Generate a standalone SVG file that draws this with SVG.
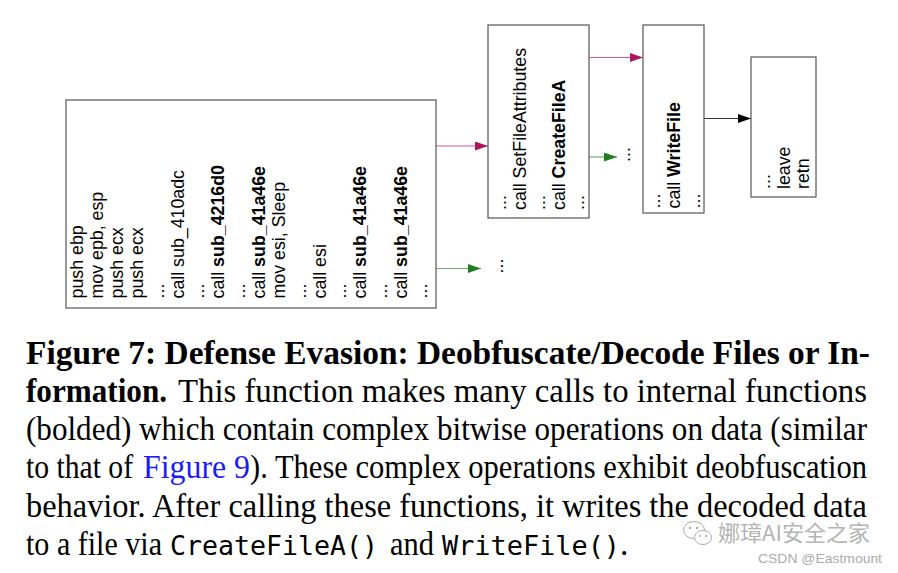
<svg xmlns="http://www.w3.org/2000/svg" width="898" height="573" viewBox="0 0 898 573">
<defs>
<style>
.box{fill:#fff;stroke:#555;stroke-width:1.2}
.t{font-family:"Liberation Sans",Arial,sans-serif;font-size:17.8px;fill:#000}
.b{font-weight:bold}
.cap{font-family:"Liberation Serif","Times New Roman",serif;font-size:33.5px;fill:#000}
.mono{font-family:"DejaVu Sans Mono","Liberation Mono",monospace;font-size:26px;fill:#000}
.mag{stroke:#cc5f8f;stroke-width:1.2;fill:none}
.grn{stroke:#6fae6f;stroke-width:1.2;fill:none}
.blk{stroke:#333;stroke-width:1.2;fill:none}
</style>
<marker id="hm" markerUnits="userSpaceOnUse" markerWidth="14" markerHeight="10" refX="13" refY="4.5" orient="auto"><path d="M0,0 L13,4.5 L0,9 z" fill="#b3125c"/></marker>
<marker id="hg" markerUnits="userSpaceOnUse" markerWidth="14" markerHeight="10" refX="13" refY="4.5" orient="auto"><path d="M0,0 L13,4.5 L0,9 z" fill="#1f7d22"/></marker>
<marker id="hk" markerUnits="userSpaceOnUse" markerWidth="14" markerHeight="10" refX="13" refY="4.5" orient="auto"><path d="M0,0 L13,4.5 L0,9 z" fill="#000"/></marker>
</defs>
<rect width="898" height="573" fill="#fff"/>

<g id="connectors">
<line class="mag" x1="436" y1="146" x2="488" y2="146" marker-end="url(#hm)"/>
<line class="grn" x1="436" y1="268.5" x2="481" y2="268.5" marker-end="url(#hg)"/>
<line class="mag" x1="589" y1="57.5" x2="643" y2="57.5" marker-end="url(#hm)"/>
<line class="grn" x1="589" y1="157" x2="617" y2="157" marker-end="url(#hg)"/>
<line class="blk" x1="704" y1="118.5" x2="751" y2="118.5" marker-end="url(#hk)"/>
</g>

<g id="node-main">
<rect class="box" x="66" y="100" width="370" height="208"/>
<text class="t" transform="translate(82.5,298.5) rotate(-90)">push ebp</text>
<text class="t" transform="translate(102.8,298.5) rotate(-90)">mov epb, esp</text>
<text class="t" transform="translate(123,298.5) rotate(-90)">push ecx</text>
<text class="t" transform="translate(143.3,298.5) rotate(-90)">push ecx</text>
<text class="t" transform="translate(163.6,298.5) rotate(-90)">...</text>
<text class="t" transform="translate(183.9,298.5) rotate(-90)">call sub_410adc</text>
<text class="t" transform="translate(204.1,298.5) rotate(-90)">...</text>
<text class="t" transform="translate(224.4,298.5) rotate(-90)">call <tspan class="b">sub_4216d0</tspan></text>
<text class="t" transform="translate(244.7,298.5) rotate(-90)">...</text>
<text class="t" transform="translate(264.9,298.5) rotate(-90)">call <tspan class="b">sub_41a46e</tspan></text>
<text class="t" transform="translate(285.2,298.5) rotate(-90)">mov esi, Sleep</text>
<text class="t" transform="translate(305.5,298.5) rotate(-90)">...</text>
<text class="t" transform="translate(325.7,298.5) rotate(-90)">call esi</text>
<text class="t" transform="translate(346,298.5) rotate(-90)">...</text>
<text class="t" transform="translate(366.3,298.5) rotate(-90)">call <tspan class="b">sub_41a46e</tspan></text>
<text class="t" transform="translate(386.6,298.5) rotate(-90)">...</text>
<text class="t" transform="translate(406.8,298.5) rotate(-90)">call <tspan class="b">sub_41a46e</tspan></text>
<text class="t" transform="translate(427.1,298.5) rotate(-90)">...</text>
</g>

<g id="node-cont1">
<text class="t" transform="translate(503,273.5) rotate(-90)">...</text>
</g>

<g id="node-createfile">
<rect class="box" x="488" y="25" width="101" height="193"/>
<text class="t" transform="translate(506,210) rotate(-90)">...</text>
<text class="t" transform="translate(525.6,210) rotate(-90)">call SetFileAttributes</text>
<text class="t" transform="translate(545.2,210) rotate(-90)">...</text>
<text class="t" transform="translate(564.8,210) rotate(-90)">call <tspan class="b">CreateFileA</tspan></text>
<text class="t" transform="translate(584.4,210) rotate(-90)">...</text>
</g>

<g id="node-cont2">
<text class="t" transform="translate(629.5,162) rotate(-90)">...</text>
</g>

<g id="node-writefile">
<rect class="box" x="643" y="25" width="61" height="188"/>
<text class="t" transform="translate(659.5,208.5) rotate(-90)">...</text>
<text class="t" transform="translate(680,208.5) rotate(-90)">call <tspan class="b">WriteFile</tspan></text>
<text class="t" transform="translate(699.8,208.5) rotate(-90)">...</text>
</g>

<g id="node-ret">
<rect class="box" x="751" y="57" width="65" height="140"/>
<text class="t" transform="translate(770,189) rotate(-90)">...</text>
<text class="t" transform="translate(790,189) rotate(-90)">leave</text>
<text class="t" transform="translate(809,189) rotate(-90)">retn</text>
</g>

<g id="caption">
<text class="cap" font-weight="bold" x="26" y="363.5" textLength="844" lengthAdjust="spacingAndGlyphs">Figure 7: Defense Evasion: Deobfuscate/Decode Files or In-</text>
<text class="cap" font-weight="bold" x="26" y="401.8" textLength="141" lengthAdjust="spacingAndGlyphs">formation.</text>
<text class="cap" x="178" y="401.8" textLength="689" lengthAdjust="spacingAndGlyphs">This function makes many calls to internal functions</text>
<text class="cap" x="26" y="440.1" textLength="841" lengthAdjust="spacingAndGlyphs">(bolded) which contain complex bitwise operations on data (similar</text>
<text class="cap" x="26" y="478.4" textLength="107" lengthAdjust="spacingAndGlyphs">to that of</text>
<text class="cap" x="143" y="478.4" textLength="107" lengthAdjust="spacingAndGlyphs" fill="#1a1aff" style="fill:#1a1aff">Figure 9</text>
<text class="cap" x="250" y="478.4" textLength="617" lengthAdjust="spacingAndGlyphs">). These complex operations exhibit deobfuscation</text>
<text class="cap" x="26" y="516.7" textLength="841" lengthAdjust="spacingAndGlyphs">behavior. After calling these functions, it writes the decoded data</text>
<text class="cap" x="26" y="555" textLength="136" lengthAdjust="spacingAndGlyphs">to a file via</text>
<text class="mono" x="170" y="555" textLength="208" lengthAdjust="spacingAndGlyphs">CreateFileA()</text>
<text class="cap" x="390" y="555" textLength="44" lengthAdjust="spacingAndGlyphs">and</text>
<text class="mono" x="442" y="555" textLength="178" lengthAdjust="spacingAndGlyphs">WriteFile()</text>
<text class="cap" x="620" y="555">.</text>
</g>

<g id="watermark">
<ellipse cx="694" cy="530" rx="10.5" ry="8.5" fill="#fff" stroke="#aaa" stroke-width="1"/>
<ellipse cx="703" cy="537.5" rx="8.5" ry="7" fill="#fff" stroke="#aaa" stroke-width="1"/>
<circle cx="690" cy="528" r="1.2" fill="#aaa"/>
<circle cx="697" cy="528" r="1.2" fill="#aaa"/>
<circle cx="700" cy="536" r="1" fill="#aaa"/>
<circle cx="706" cy="536" r="1" fill="#aaa"/>
<text x="718" y="541" font-family="'Noto Sans CJK SC','Noto Sans',sans-serif" font-size="21.5" fill="#b4b4b4" textLength="152" lengthAdjust="spacingAndGlyphs">娜璋AI安全之家</text>
<text x="758" y="563" font-family="'Liberation Sans',Arial,sans-serif" font-size="13" fill="#aaa" textLength="124" lengthAdjust="spacingAndGlyphs">CSDN @Eastmount</text>
</g>
</svg>
